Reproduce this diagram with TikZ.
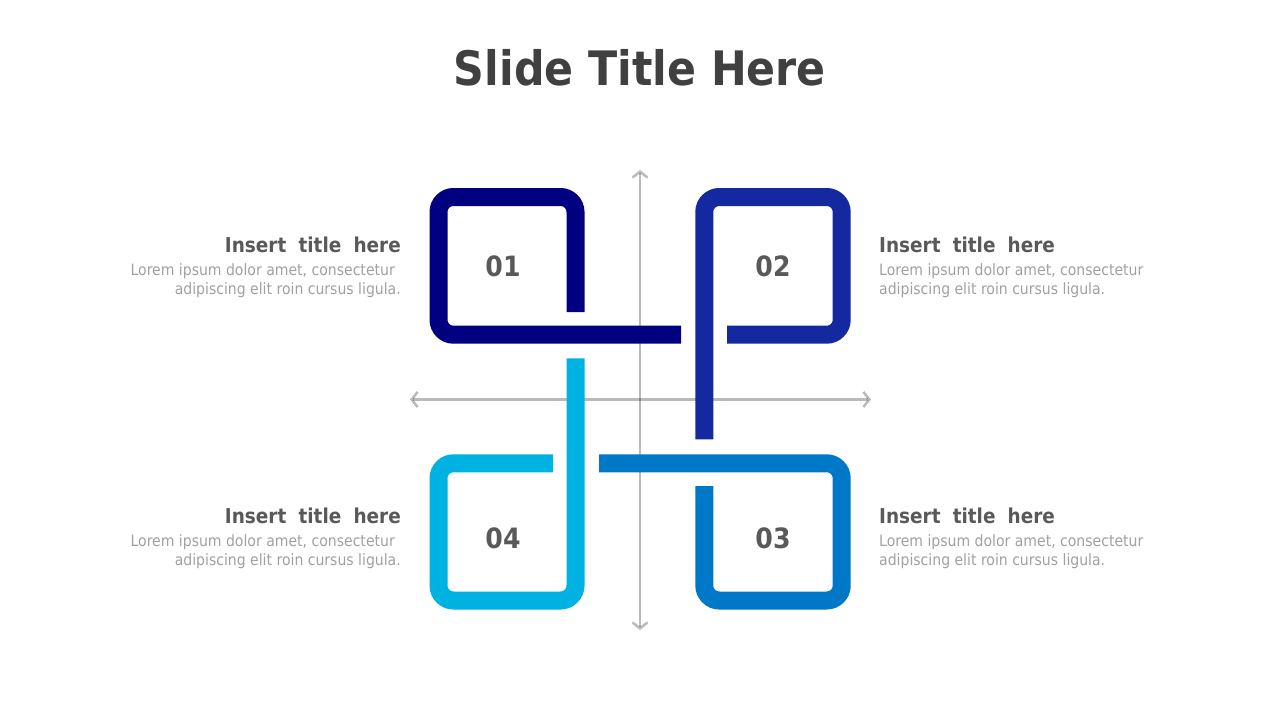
\documentclass[tikz,border=0pt]{standalone}
\usepackage{fontspec}
\setmainfont{DejaVu Sans Condensed}
\newfontfamily\headfont{DejaVu Sans Condensed}[WordSpace=1.9]
\usetikzlibrary{arrows.meta}
\definecolor{onecolor}{HTML}{000080}
\definecolor{twocolor}{HTML}{1428A0}
\definecolor{threecolor}{HTML}{0078C8}
\definecolor{fourcolor}{HTML}{00B2E2}
\definecolor{titlegray}{HTML}{404040}
\definecolor{numgray}{HTML}{595959}
\definecolor{bodygray}{HTML}{A0A0A0}

\begin{document}
\begin{tikzpicture}[x=1pt, y=-1pt,
    loop/.style={line width=18pt, rounded corners=15pt},
    axis/.style={line width=2.5pt, draw=black, draw opacity=0.27, {Straight Barb[length=6pt,width=15pt]}-{Straight Barb[length=6pt,width=15pt]}},
    num/.style={font=\bfseries\fontsize{28}{28}\selectfont, text=numgray},
    head/.style={font=\headfont\bfseries\fontsize{20.5}{24}\selectfont, text=numgray, inner sep=0pt},
    body/.style={font=\fontsize{15.6}{19}\selectfont, text=bodygray, inner sep=0pt}]
    \useasboundingbox (0,0) rectangle (1280,720);

    % Titre
    \node[font=\bfseries\fontsize{47.5}{48}\selectfont, text=titlegray] (title) at (640,68) {Slide Title Here};

    % Axes
    \coordinate (west) at (410,399.5);
    \coordinate (east) at (871,399.5);
    \coordinate (north) at (640,170);
    \coordinate (south) at (640,630);
    \draw[axis] (west) -- (east);
    \draw[axis] (north) -- (south);

    % Boucle 01
    \draw[loop, onecolor] (575.5,312) -- (575.5,197) -- (438.5,197) -- (438.5,334.7) -- (681,334.7);
    \node[num] (n1) at (503,266) {01};

    % Boucle 02
    \draw[loop, twocolor] (727,334.7) -- (841.7,334.7) -- (841.7,197) -- (704.3,197) -- (704.3,439.3);
    \node[num] (n2) at (773,266) {02};

    % Boucle 03
    \draw[loop, threecolor] (599,463.3) -- (841.7,463.3) -- (841.7,600.5) -- (704.3,600.5) -- (704.3,486);
    \node[num] (n3) at (773,538) {03};

    % Boucle 04
    \draw[loop, fourcolor] (575.5,358.3) -- (575.5,600.5) -- (438.5,600.5) -- (438.5,463.3) -- (553,463.3);
    \node[num] (n4) at (503,538) {04};

    % Textes gauche
    \node[head, anchor=east] (h1) at (401,245) {Insert title here};
    \node[body, anchor=north east, align=right] (b1) at (401,263) {Lorem ipsum dolor amet, consectetur\hspace*{6pt}\\adipiscing elit roin cursus ligula.};
    \node[head, anchor=east] (h4) at (401,516) {Insert title here};
    \node[body, anchor=north east, align=right] (b4) at (401,534) {Lorem ipsum dolor amet, consectetur\hspace*{6pt}\\adipiscing elit roin cursus ligula.};

    % Textes droite
    \node[head, anchor=west] (h2) at (879,245) {Insert title here};
    \node[body, anchor=north west, align=left] (b2) at (879,263) {Lorem ipsum dolor amet, consectetur\\adipiscing elit roin cursus ligula.};
    \node[head, anchor=west] (h3) at (879,516) {Insert title here};
    \node[body, anchor=north west, align=left] (b3) at (879,534) {Lorem ipsum dolor amet, consectetur\\adipiscing elit roin cursus ligula.};
\end{tikzpicture}
\end{document}
